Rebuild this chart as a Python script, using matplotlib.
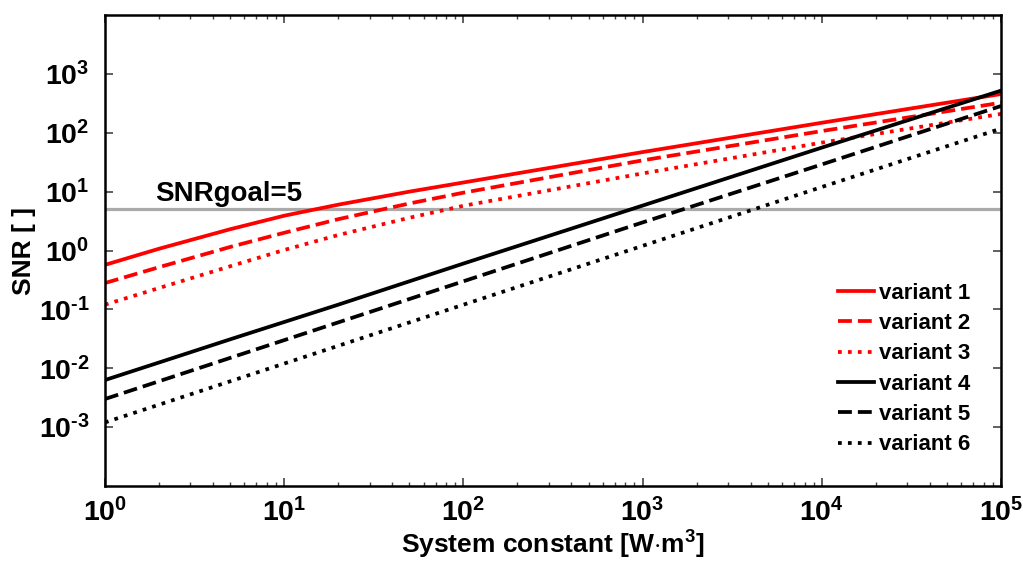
import matplotlib
matplotlib.use("Agg")
import matplotlib.pyplot as plt
from matplotlib.ticker import FixedLocator, FixedFormatter, LogLocator, NullFormatter

plt.rcParams['font.family'] = ['Liberation Sans', 'DejaVu Sans']
plt.rcParams['font.weight'] = 'bold'
plt.rcParams['mathtext.fontset'] = 'custom'
plt.rcParams['mathtext.rm'] = 'Liberation Sans:bold'
plt.rcParams['mathtext.bf'] = 'Liberation Sans:bold'
plt.rcParams['mathtext.it'] = 'Liberation Sans:bold'

# system constant values (x) and SNR
system_constant = [1, 2, 5, 10, 20, 50, 100, 1000, 1e4, 1e5]
variant1 = [0.57, 1.07, 2.3, 3.9, 6.0, 10.0, 14.3, 47, 148, 455]
variant2 = [0.28, 0.52, 1.15, 2.0, 3.4, 6.3, 9.6, 34, 107, 324]
variant3 = [0.12, 0.23, 0.54, 1.02, 1.83, 3.6, 5.75, 20.4, 68, 209]
variant4 = [0.0063, 0.0125, 0.031, 0.061, 0.12, 0.30, 0.60, 5.8, 56, 520]
variant5 = [0.003, 0.006, 0.015, 0.030, 0.060, 0.15, 0.30, 3.0, 29, 285]
variant6 = [0.0012, 0.0024, 0.006, 0.012, 0.024, 0.06, 0.12, 1.2, 12, 118]
snr_goal = 5

labels = ['variant 1', 'variant 2', 'variant 3', 'variant 4', 'variant 5', 'variant 6']
colors = ['#ff0000', '#ff0000', '#ff0000', 'black', 'black', 'black']
styles = ['-', '--', ':', '-', '--', ':']

fig = plt.figure(figsize=(10.23, 5.67), dpi=100)
ax = fig.add_axes([0.1026, 0.1429, 0.876, 0.8306])

ax.axhline(snr_goal, color='#aaaaaa', lw=2.3, zorder=1)
ax.text(1.9, 7.0, 'SNRgoal=5', fontsize=20, fontweight='bold', va='baseline', ha='left')

series = [variant1, variant2, variant3, variant4, variant5, variant6]
for ys, lab, c, ls in zip(series, labels, colors, styles):
    ax.plot(system_constant, ys, color=c, ls=ls, lw=2.7, label=lab, zorder=2)

ax.set_xscale('log')
ax.set_yscale('log')
ax.set_xlim(1, 1e5)
ax.set_ylim(1e-4, 1e4)

xt = [1, 10, 100, 1000, 1e4, 1e5]
ax.xaxis.set_major_locator(FixedLocator(xt))
ax.xaxis.set_major_formatter(FixedFormatter([r'$10^{%d}$' % i for i in range(6)]))
ax.xaxis.set_minor_locator(LogLocator(base=10, subs=range(2, 10), numticks=20))
ax.xaxis.set_minor_formatter(NullFormatter())

yt = [1e-3, 1e-2, 1e-1, 1, 10, 100, 1000]
ylab = [r'$10^{%s}$' % str(i).replace('-', '\u2010') for i in range(-3, 4)]
ax.yaxis.set_major_locator(FixedLocator(yt))
ax.yaxis.set_major_formatter(FixedFormatter(ylab))
ax.yaxis.set_minor_locator(FixedLocator([]))

ax.tick_params(which='both', direction='in', top=True, right=True, labelsize=20.5)
ax.tick_params(which='major', length=6, width=1.2, color='#444444')
ax.tick_params(which='minor', length=3, width=1.0, color='#444444')
ax.tick_params(axis='x', pad=9)
ax.tick_params(axis='y', pad=11)
for sp in ax.spines.values():
    sp.set_linewidth(1.8)

ax.set_xlabel(r'System constant [W$\cdot$m$^3$]', fontsize=19, fontweight='bold', labelpad=1)
ax.set_ylabel('SNR [ ]', fontsize=19, fontweight='bold', labelpad=2)

leg = ax.legend(loc='lower right', bbox_to_anchor=(0.966, 0.065), frameon=False,
                fontsize=16, handlelength=1.6, handletextpad=0.25, labelspacing=0.42,
                borderpad=0, borderaxespad=0)
for t in leg.get_texts():
    t.set_fontweight('bold')

fig.savefig('out.png', dpi=100)
